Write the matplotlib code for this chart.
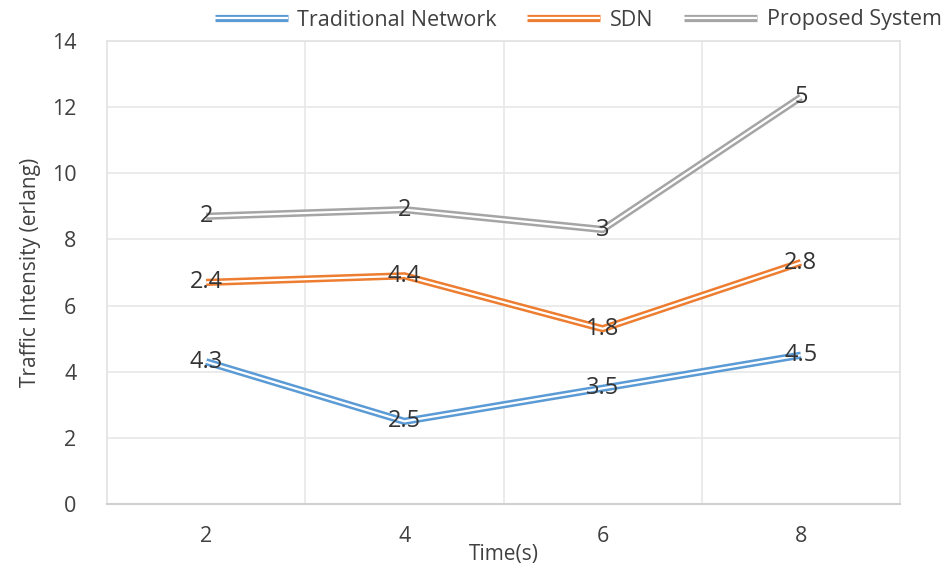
import matplotlib

matplotlib.use("Agg")
import matplotlib.pyplot as plt  # noqa: E402
import numpy as np  # noqa: E402

plt.rcParams["font.family"] = ["Open Sans", "DejaVu Sans"]

# stacked line chart: each series is drawn on top of the previous one
time_s = ["2", "4", "6", "8"]
traditional = [4.3, 2.5, 3.5, 4.5]
sdn = [2.4, 4.4, 1.8, 2.8]
proposed = [2, 2, 3, 5]

series = [
    ("Traditional Network", traditional, "#5b9bd5"),
    ("SDN", sdn, "#ed7d31"),
    ("Proposed System", proposed, "#a5a5a5"),
]

fig = plt.figure(figsize=(9.45, 5.71), dpi=100)
ax = fig.add_axes([107 / 945, 1 - 504 / 571, (900 - 107) / 945, (504 - 41) / 571])

x = np.arange(len(time_s))
base = np.zeros(len(time_s))
handles = []
for name, vals, color in series:
    y = base + np.asarray(vals, dtype=float)
    outer, = ax.plot(x, y, color=color, lw=5.2, solid_joinstyle="miter",
                     solid_capstyle="butt", zorder=3)
    inner, = ax.plot(x, y, color="white", lw=1.6, solid_joinstyle="miter",
                     solid_capstyle="butt", zorder=4)
    for xi, yi, v in zip(x, y, vals):
        ax.text(xi, yi, f"{v:g}", ha="center", va="center", fontsize=17,
                color="#333333", zorder=5)
    handles.append((outer, inner))
    base = y

ax.set_xlim(-0.5, len(time_s) - 0.5)
ax.set_ylim(0, 14)
ax.set_yticks(np.arange(0, 15, 2))
ax.set_xticks(x)
ax.set_xticklabels(time_s)
ax.set_xticks(np.arange(0.5, len(time_s) - 0.5, 1), minor=True)

ax.grid(axis="y", color="#e8e8e8", lw=1.2)
ax.grid(axis="x", which="minor", color="#e8e8e8", lw=1.2)
ax.set_axisbelow(True)
for side in ("left", "right", "top"):
    ax.spines[side].set_color("#e2e2e2")
    ax.spines[side].set_linewidth(1.2)
ax.spines["bottom"].set_color("#d0d0d0")
ax.spines["bottom"].set_linewidth(1.5)

ax.tick_params(which="both", length=0, labelsize=15.5, colors="#404040")
ax.tick_params(axis="x", pad=16)
ax.tick_params(axis="y", pad=22)

ax.set_ylabel("Traffic Intensity (erlang)", fontsize=15, color="#404040", labelpad=8)
ax.set_xlabel("Time(s)", fontsize=15, color="#404040", labelpad=-2)

fig.legend(handles, [s[0] for s in series], loc="center",
           bbox_to_anchor=(578 / 945, 1 - 20 / 571), ncol=3, frameon=False,
           fontsize=15.5, handlelength=3.4, handletextpad=0.45, columnspacing=1.4,
           labelcolor="#404040")

fig.savefig("out.png", dpi=100)
